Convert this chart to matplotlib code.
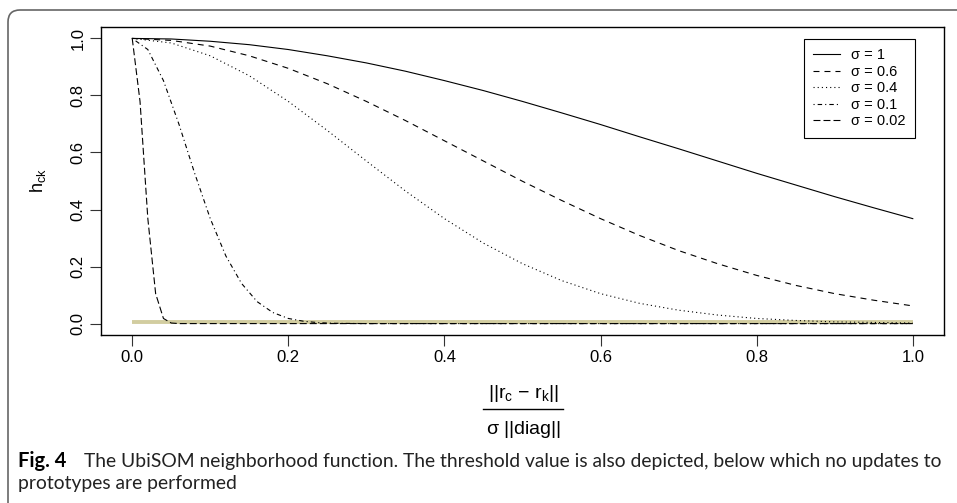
import numpy as np
import matplotlib
matplotlib.use("Agg")
import matplotlib.pyplot as plt
from matplotlib.patches import FancyBboxPatch
from matplotlib.lines import Line2D
from matplotlib.transforms import IdentityTransform

plt.rcParams["font.family"] = ["Liberation Sans", "DejaVu Sans"]
plt.rcParams["mathtext.fontset"] = "custom"
plt.rcParams["mathtext.rm"] = "Liberation Sans"
plt.rcParams["mathtext.it"] = "Liberation Sans"
plt.rcParams["lines.scale_dashes"] = False

# values
x_wide = [0.0, 0.05, 0.1, 0.15, 0.2, 0.25, 0.3, 0.35, 0.4, 0.45, 0.5,
          0.55, 0.6, 0.65, 0.7, 0.75, 0.8, 0.85, 0.9, 0.95, 1.0]
h_sigma_1 = [1.000, 0.998, 0.990, 0.978, 0.961, 0.939, 0.914, 0.885, 0.852, 0.817, 0.779,
             0.739, 0.698, 0.655, 0.613, 0.570, 0.527, 0.486, 0.445, 0.406, 0.368]
h_sigma_06 = [1.000, 0.993, 0.973, 0.939, 0.895, 0.841, 0.779, 0.712, 0.641, 0.570, 0.499,
              0.432, 0.368, 0.309, 0.256, 0.210, 0.169, 0.134, 0.105, 0.082, 0.062]
h_sigma_04 = [1.000, 0.984, 0.939, 0.869, 0.779, 0.677, 0.570, 0.465, 0.368, 0.282, 0.210,
              0.151, 0.105, 0.071, 0.047, 0.030, 0.018, 0.011, 0.006, 0.004, 0.002]

x_narrow = [0.0, 0.02, 0.04, 0.06, 0.08, 0.1, 0.12, 0.14, 0.16, 0.18, 0.2,
            0.22, 0.24, 0.26, 0.3, 1.0]
h_sigma_01 = [1.000, 0.961, 0.852, 0.698, 0.527, 0.368, 0.237, 0.141, 0.077, 0.039, 0.018,
              0.008, 0.003, 0.001, 0.000, 0.000]

x_tiny = [0.0, 0.01, 0.02, 0.03, 0.04, 0.05, 0.06, 1.0]
h_sigma_002 = [1.000, 0.779, 0.368, 0.105, 0.018, 0.002, 0.000, 0.000]

threshold = 0.006
legend_labels = ["σ = 1", "σ = 0.6", "σ = 0.4", "σ = 0.1", "σ = 0.02"]

W, H = 957, 503
fig = plt.figure(figsize=(W / 100, H / 100), dpi=100)
ax = fig.add_axes([101 / W, 1 - 335 / H, (944 - 101) / W, (335 - 27) / H])

ax.plot([0, 1], [threshold, threshold], color="#d2cda0", lw=2.8, solid_capstyle="butt", zorder=1)

styles = [
    (x_wide, h_sigma_1, "-"),
    (x_wide, h_sigma_06, (0, (4.3, 3.6))),
    (x_wide, h_sigma_04, (0, (0.8, 2.2))),
    (x_narrow, h_sigma_01, (0, (0.8, 2.2, 3.2, 2.2))),
    (x_tiny, h_sigma_002, (0, (5.0, 2.2))),
]
for (xs, ys, ls), lab in zip(styles, legend_labels):
    ax.plot(xs, ys, color="black", lw=0.8, linestyle=ls, label=lab, zorder=2)

ax.set_xlim(-0.04, 1.04)
ax.set_ylim(-0.04, 1.04)
ax.set_xticks([0.0, 0.2, 0.4, 0.6, 0.8, 1.0])
ax.set_yticks([0.0, 0.2, 0.4, 0.6, 0.8, 1.0])
ax.set_xticklabels(["0.0", "0.2", "0.4", "0.6", "0.8", "1.0"], fontsize=12)
ax.set_yticklabels(["0.0", "0.2", "0.4", "0.6", "0.8", "1.0"], fontsize=12,
                   rotation=90, va="center")
ax.tick_params(direction="out", length=8, width=0.8, color="#333333", pad=3)
for sp in ax.spines.values():
    sp.set_linewidth(1.0)
    sp.set_color("black")

ax.set_ylabel(r"$\mathregular{h_{ck}}$", fontsize=13)
ax.yaxis.set_label_coords(-(101 - 48) / (944 - 101), 0.5)

leg = ax.legend(loc="upper left", bbox_to_anchor=(804 / W, 1 - 39 / H),
                bbox_transform=fig.transFigure, borderaxespad=0, fancybox=False,
                edgecolor="black", framealpha=1, fontsize=10.5, handlelength=1.8,
                handletextpad=0.8, labelspacing=0.17, borderpad=0.65)
leg.get_frame().set_linewidth(0.8)

# fraction x label
fig.text(523 / W, 1 - 393 / H, r"$\mathregular{||r_c}$ − $\mathregular{r_k||}$",
         ha="center", va="center", fontsize=14)
fig.text(523 / W, 1 - 429 / H, r"$\mathregular{\sigma\ ||diag||}$", ha="center", va="center", fontsize=14)
fig.add_artist(Line2D([483 / W, 563 / W], [1 - 409 / H, 1 - 409 / H], color="black", lw=1.0,
                      transform=fig.transFigure))

# caption
cap_font = ["Lato", "DejaVu Sans"]
fig.text(18 / W, 1 - 461 / H, "Fig. 4", fontsize=14.5, fontweight="bold", family=cap_font,
         color="black", ha="left", va="center")
fig.text(84 / W, 1 - 461 / H,
         "The UbiSOM neighborhood function. The threshold value is also depicted, below which no updates to",
         fontsize=13.9, family=cap_font, ha="left", va="center", color="#222222")
fig.text(18 / W, 1 - 484 / H, "prototypes are performed", fontsize=13.9, family=cap_font,
         ha="left", va="center", color="#222222")

# outer rounded frame (runs off the right and bottom edges)
frame = FancyBboxPatch((8, -30), 1050, H - 10 + 30, boxstyle="round,pad=0,rounding_size=12",
                       transform=IdentityTransform(), fill=False, edgecolor="#666666", lw=1.2)
fig.patches.append(frame)

fig.savefig("out.png", dpi=100)
